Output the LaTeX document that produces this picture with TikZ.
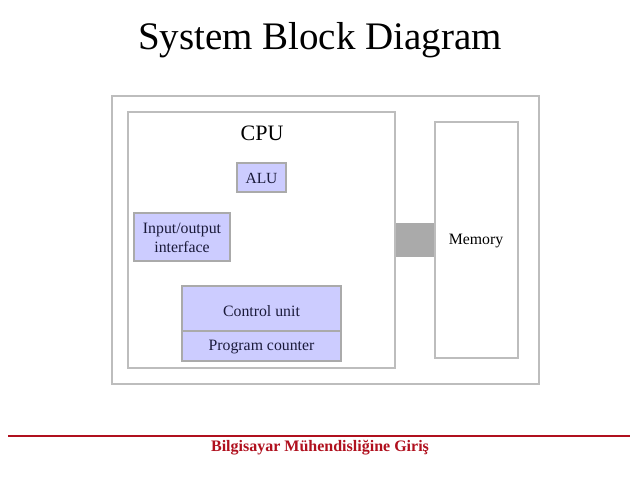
\documentclass[tikz,border=0pt]{standalone}
\usepackage{fontspec}
\setmainfont{Liberation Serif}
\definecolor{boxgray}{HTML}{BDBDBD}
\definecolor{blockfill}{HTML}{CCCCFF}
\definecolor{blockedge}{HTML}{AAAAAA}
\definecolor{busgray}{HTML}{AAAAAA}
\definecolor{footred}{HTML}{B0101E}
\definecolor{textblue}{HTML}{1A1A3A}
\begin{document}
\begin{tikzpicture}[x=1pt,y=-1pt,
  frame/.style={draw=boxgray,line width=2.5pt,fill=white},
  block/.style={draw=blockedge,line width=2pt,fill=blockfill},
  lbl/.style={font=\fontsize{15.8}{19}\selectfont,text=textblue,align=center}]
\useasboundingbox (0,0) rectangle (640,480);
\fill[white] (0,0) rectangle (640,480);
\node[font=\fontsize{39}{42}\selectfont] (title) at (320,40) {System Block Diagram};
% outer
\draw[frame] (112,96) rectangle (539,384);
% CPU
\draw[frame] (128,112) rectangle (395,368);
\node[font=\fontsize{22}{24}\selectfont] (cpu) at (262,133) {CPU};
% memory
\draw[frame] (435,122) rectangle (518,358);
\node[lbl,text=black] (mem) at (476,241) {Memory};
% bus
\fill[busgray] (396,223) rectangle (434,257);
% ALU
\draw[block] (237,163) rectangle (286,192);
\node[lbl,font=\fontsize{15.5}{17}\selectfont] (alu) at (261.5,178) {ALU};
% IO
\draw[block] (134,213) rectangle (230,261);
\node[lbl] (io) at (182,237.5) {Input/output\\interface};
% control
\draw[block] (182,286) rectangle (341,331);
\node[lbl] (cu) at (261.5,311) {Control unit};
\draw[block] (182,331) rectangle (341,361);
\node[lbl] (pc) at (261.5,347) {Program counter};
% footer
\draw[footred,line width=2.5pt] (8,436) -- (630,436);
\node[font=\fontsize{16}{18}\selectfont\bfseries,text=footred] (foot) at (320,448) {Bilgisayar Mühendisliğine Giriş};
\end{tikzpicture}
\end{document}
